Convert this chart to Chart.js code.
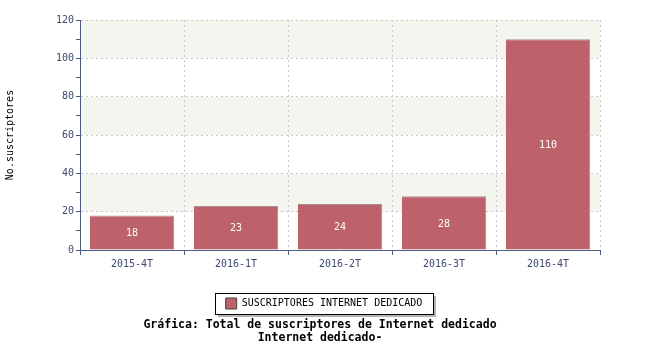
<!DOCTYPE html>
<html>
<head>
<meta charset="utf-8">
<script src="https://cdn.jsdelivr.net/npm/chart.js@4/dist/chart.umd.min.js"></script>
<style>
  body { margin: 0; background: #fff; }
  #wrap { width: 650px; height: 350px; }
</style>
</head>
<body>
<div id="wrap"><canvas id="myChart"></canvas></div>
<script>
const categories = ['2015-4T', '2016-1T', '2016-2T', '2016-3T', '2016-4T'];
const subscribers = [18, 23, 24, 28, 110];
const seriesName = 'SUSCRIPTORES INTERNET DEDICADO';
const titleLines = ['Gráfica: Total de suscriptores de Internet dedicado', 'Internet dedicado-'];

const axisColor = '#4a5a80';
const tickText = '#3d4a70';
const barColor = '#bd616b';
const mono = 'DejaVu Sans Mono';

// alternating light bands behind the plot
const bands = {
    id: 'bands',
    beforeDraw(chart) {
        const { ctx, chartArea, scales } = chart;
        const y = scales.y;
        ctx.save();
        ctx.fillStyle = '#f5f5f0';
        for (let v = 20; v < 120; v += 40) {
            const top = y.getPixelForValue(v + 20);
            const bot = y.getPixelForValue(v);
            ctx.fillRect(chartArea.left, top, chartArea.right - chartArea.left, bot - top);
        }
        ctx.restore();
    }
};

// legend and title sit a bit right of the canvas centre
const shiftBottom = {
    id: 'shiftBottom',
    afterLayout(chart) {
        chart.legend.left += 24;
        chart.legend.right += 24;
        chart.titleBlock.left += 20;
        chart.titleBlock.right += 20;
    }
};

// value labels inside the bars
const barLabels = {
    id: 'barLabels',
    afterDatasetsDraw(chart) {
        const { ctx } = chart;
        const meta = chart.getDatasetMeta(0);
        ctx.save();
        ctx.fillStyle = '#ffffff';
        ctx.font = '10px "' + mono + '"';
        ctx.textAlign = 'center';
        ctx.textBaseline = 'middle';
        meta.data.forEach(function(bar, i) {
            ctx.fillText(subscribers[i], bar.x, (bar.y + bar.base) / 2 + 1);
        });
        ctx.restore();
    }
};

// framed legend with a shadow
const legendBox = {
    id: 'legendBox',
    beforeDraw(chart) {
        const hb = chart.legend.legendHitBoxes[0];
        if (!hb) return;
        const { ctx } = chart;
        const x = Math.round(hb.left) - 11, y = Math.round(hb.top) - 5;
        const w = Math.round(hb.width) + 21, h = 21;
        ctx.save();
        ctx.fillStyle = '#b4b4b4';
        ctx.fillRect(x + 3, y + 3, w, h);
        ctx.fillStyle = '#ffffff';
        ctx.fillRect(x, y, w, h);
        ctx.strokeStyle = '#000000';
        ctx.lineWidth = 1;
        ctx.strokeRect(x + 0.5, y + 0.5, w, h);
        ctx.restore();
    }
};

const ctx = document.getElementById('myChart').getContext('2d');
const myChart = new Chart(ctx, {
    type: 'bar',
    data: {
        labels: categories,
        datasets: [{
            label: seriesName,
            data: subscribers,
            backgroundColor: barColor,
            borderColor: '#a88e90',
            borderWidth: { top: 1, right: 1, left: 0, bottom: 0 },
            borderSkipped: false,
            categoryPercentage: 0.81,
            barPercentage: 1
        }]
    },
    options: {
        responsive: true,
        maintainAspectRatio: false,
        animation: false,
        layout: { padding: { left: 0, right: 50, top: 20, bottom: 5 } },
        scales: {
            y: {
                min: 0,
                max: 120,
                afterFit: function(scale) { scale.width = 80; },
                grid: {
                    color: function(c) { return c.tick && c.tick.value % 20 === 0 ? '#c8c8c8' : 'transparent'; },
                    tickColor: axisColor,
                    tickLength: 4
                },
                border: { color: axisColor, dash: [2, 3] },
                ticks: {
                    stepSize: 10,
                    color: tickText,
                    padding: 2,
                    font: { family: mono, size: 10 },
                    callback: function(value) {
                        return value % 20 === 0 ? value : '';
                    }
                },
                title: {
                    display: true,
                    text: 'No.suscriptores',
                    color: '#000000',
                    font: { family: mono, size: 10 },
                    padding: { top: 4, bottom: 0 }
                }
            },
            x: {
                afterFit: function(scale) { scale.height = 40; },
                border: { color: axisColor, dash: [2, 3] },
                grid: {
                    color: '#c8c8c8',
                    tickColor: axisColor,
                    tickLength: 5,
                    offset: true
                },
                ticks: {
                    color: tickText,
                    padding: 3,
                    maxRotation: 0,
                    minRotation: 0,
                    font: { family: mono, size: 10 }
                }
            }
        },
        plugins: {
            legend: {
                display: true,
                position: 'bottom',
                labels: {
                    color: '#000000',
                    boxWidth: 11,
                    boxHeight: 11,
                    padding: 8,
                    font: { family: mono, size: 10 },
                    generateLabels: function(chart) {
                        const items = Chart.defaults.plugins.legend.labels.generateLabels(chart);
                        items.forEach(function(it) {
                            it.strokeStyle = '#444444';
                            it.lineWidth = 1;
                        });
                        return items;
                    }
                }
            },
            title: {
                display: true,
                position: 'bottom',
                text: titleLines,
                color: '#000000',
                padding: { top: 0, bottom: 0 },
                font: { family: mono, size: 11.5, weight: 'bold', lineHeight: 1.13 }
            },
            tooltip: { enabled: false }
        }
    },
    plugins: [bands, shiftBottom, barLabels, legendBox]
});
</script>
</body>
</html>
